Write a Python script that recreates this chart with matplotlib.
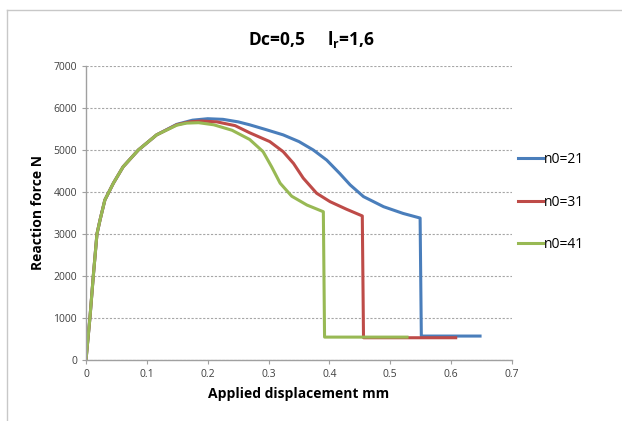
import matplotlib
matplotlib.use("Agg")
import matplotlib.pyplot as plt
from matplotlib.lines import Line2D

# data
x_common = [0.0, 0.0066, 0.012, 0.018, 0.023, 0.031, 0.045, 0.061, 0.086, 0.116]
y_common = [0, 1030, 2000, 3000, 3330, 3810, 4210, 4600, 5000, 5360]

x21 = x_common + [0.149, 0.175, 0.200, 0.225, 0.25, 0.269, 0.297, 0.324, 0.350, 0.3735, 0.3955,
                  0.417, 0.434, 0.456, 0.489, 0.521, 0.549, 0.551, 0.65]
y21 = y_common + [5610, 5710, 5745, 5730, 5670, 5600, 5480, 5360, 5200, 5000, 4760,
                  4440, 4170, 3890, 3650, 3490, 3380, 570, 570]

x31 = x_common + [0.149, 0.17, 0.19, 0.215, 0.245, 0.269, 0.302, 0.324, 0.341, 0.357, 0.379,
                  0.401, 0.428, 0.454, 0.456, 0.61]
y31 = y_common + [5600, 5670, 5690, 5670, 5580, 5410, 5200, 4960, 4680, 4330, 3970,
                  3770, 3590, 3430, 530, 530]

x41 = x_common + [0.149, 0.165, 0.185, 0.21, 0.24, 0.269, 0.291, 0.305, 0.319, 0.338, 0.363,
                  0.390, 0.392, 0.53]
y41 = y_common + [5590, 5640, 5650, 5600, 5470, 5250, 4960, 4600, 4210, 3900, 3690,
                  3530, 545, 545]

labels = ["n0=21", "n0=31", "n0=41"]
colors = ["#4a7ebb", "#be4b48", "#98b954"]
xticks = [0, 0.1, 0.2, 0.3, 0.4, 0.5, 0.6, 0.7]
xticklabels = ["0", "0.1", "0.2", "0.3", "0.4", "0.5", "0.6", "0.7"]
yticks = [0, 1000, 2000, 3000, 4000, 5000, 6000, 7000]

plt.rcParams['font.family'] = ['Open Sans', 'DejaVu Sans']
plt.rcParams['mathtext.fontset'] = 'custom'
plt.rcParams['mathtext.rm'] = 'Open Sans'
plt.rcParams['mathtext.bf'] = 'Open Sans:bold'

fig = plt.figure(figsize=(6.22, 4.21), dpi=100)
ax = fig.add_axes([86/622, 1-360/421, (512-86)/622, (360-66)/421])

for xs, ys, lab, c in zip([x21, x31, x41], [y21, y31, y41], labels, colors):
    ax.plot(xs, ys, color=c, lw=2.2, label=lab, solid_joinstyle='round', solid_capstyle='butt')

ax.set_xlim(0, 0.7)
ax.set_ylim(0, 7000)
ax.set_xticks(xticks)
ax.set_xticklabels(xticklabels)
ax.set_yticks(yticks)
ax.tick_params(axis='both', labelsize=7.5, colors='#404040', length=3, color='#a0a0a0')
ax.yaxis.grid(True, linestyle=(0, (2, 1.5)), color='#a6a6a6', lw=0.8)
ax.set_axisbelow(True)
for s in ['top', 'right']:
    ax.spines[s].set_visible(False)
for s in ['left', 'bottom']:
    ax.spines[s].set_color('#a0a0a0')
    ax.spines[s].set_linewidth(1.0)

ax.set_xlabel("Applied displacement mm", fontsize=10, fontweight='bold', labelpad=5)
ax.set_ylabel("Reaction force N", fontsize=10, fontweight='bold', labelpad=6)

fig.text(0.5, 1-40/421, r"Dc=0,5     l$_{\mathbf{r}}$=1,6", ha='center', va='center',
         fontsize=12.5, fontweight='bold')

handles = [Line2D([0], [0], color=c, lw=2.2) for c in colors]
fig.legend(handles, labels, loc='center left', bbox_to_anchor=(512/622, 1-202/421),
           frameon=False, fontsize=10, labelspacing=2.0, handlelength=1.8, handletextpad=0.1,
           borderaxespad=0)

# outer frame lines
fig.add_artist(Line2D([7/622, 7/622], [0, 1-10/421], color='#c8c8c8', lw=1.0, transform=fig.transFigure))
fig.add_artist(Line2D([7/622, 1], [1-10/421, 1-10/421], color='#c8c8c8', lw=1.0, transform=fig.transFigure))

fig.savefig("out.png", dpi=100)
